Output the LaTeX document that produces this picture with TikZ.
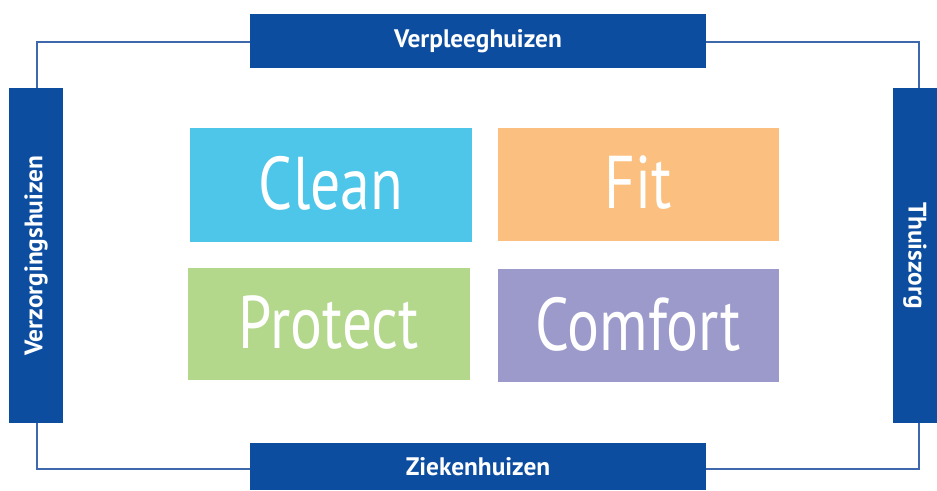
\documentclass[tikz,border=0pt]{standalone}
\usepackage{fontspec}
\setmainfont{PT Sans}
\usepackage{graphicx}
\definecolor{darkblue}{HTML}{0D4DA0}
\definecolor{framecol}{HTML}{3D69AC}
\definecolor{cleancol}{HTML}{4DC6E9}
\definecolor{fitcol}{HTML}{FBC080}
\definecolor{protectcol}{HTML}{B3D88C}
\definecolor{comfortcol}{HTML}{9C9ACB}
\newcommand{\tiletext}[1]{\raisebox{3pt}{\scalebox{0.8}[1]{#1}}}
\begin{document}
\begin{tikzpicture}[x=0.75pt,y=-0.75pt,
  labelfont/.style={text=white,font=\fontsize{19}{22}\selectfont\bfseries},
  bluebar/.style={fill=darkblue,draw=none,inner sep=0pt,labelfont},
  tile/.style={draw=none,inner sep=0pt,minimum width=211.5pt,minimum height=85pt,text=white,font=\fontsize{56}{64}\selectfont}]
\useasboundingbox (0,0) rectangle (937,490);
\coordinate (tl) at (37,42);
\coordinate (br) at (919,469);
\draw[framecol,line width=1.1pt] (tl) rectangle (br);
\node[bluebar,minimum width=342pt,minimum height=40.5pt] (top) at (478,41) {Verpleeghuizen};
\node[bluebar,minimum width=342pt,minimum height=35.25pt] (bot) at (478,466.5) {Ziekenhuizen};
\node[bluebar,minimum width=40.5pt,minimum height=251.25pt] (left) at (36,255.5) {};
\node[labelfont,rotate=90] (lefttext) at (left.center) {Verzorgingshuizen};
\node[bluebar,minimum width=33pt,minimum height=251.25pt] (right) at (915,255.5) {};
\node[labelfont,rotate=-90] (righttext) at (right.center) {Thuiszorg};
\node[tile,fill=cleancol,minimum height=85.5pt] (clean) at (331,185) {\tiletext{Clean}};
\node[tile,fill=fitcol,minimum width=210.75pt,minimum height=84.75pt] (fit) at (638.5,184.5) {\tiletext{Fit}};
\node[tile,fill=protectcol,minimum height=84pt] (protect) at (329,324) {\tiletext{Protect}};
\node[tile,fill=comfortcol,minimum width=210.75pt,minimum height=84.75pt] (comfort) at (638.5,325.5) {\tiletext{Comfort}};
\end{tikzpicture}
\end{document}
